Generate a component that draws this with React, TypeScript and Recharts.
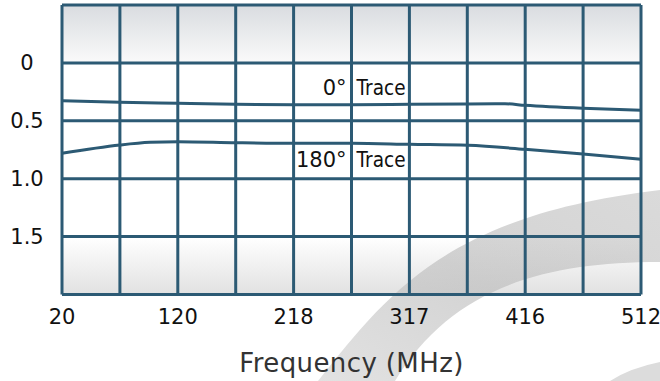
import React from 'react';
import { LineChart, Line, XAxis, YAxis, CartesianGrid, ReferenceDot } from 'recharts';

// ---- data ----
const freq0 = [20, 69.3, 118.6, 167.9, 217.1, 266.4, 315.7, 365, 396.4, 413.4, 462.7, 512];
const trace0 = [0.326, 0.340, 0.349, 0.358, 0.361, 0.361, 0.358, 0.355, 0.353, 0.366, 0.392, 0.409];
const freq180 = [20, 69.3, 94.8, 118.6, 167.9, 217.1, 266.4, 315.7, 365, 413.4, 462.7, 512];
const trace180 = [0.781, 0.709, 0.686, 0.680, 0.689, 0.694, 0.694, 0.703, 0.712, 0.746, 0.787, 0.832];

const xTicks = [20, 69.2, 118.4, 167.6, 216.8, 266, 315.2, 364.4, 413.6, 462.8, 512];
const xTickLabels = ['20', '', '120', '', '218', '', '317', '', '416', '', '512'];
const yTicks = [-0.5, 0, 0.5, 1, 1.5, 2];
const yTickLabels = ['', '0', '0.5', '1.0', '1.5', ''];

const traceLabels = [
  { name: '0°', word: 'Trace', f: 266, v: 0.28 },
  { name: '180°', word: 'Trace', f: 266, v: 0.9 },
];

const data0 = freq0.map((f, i) => ({ f, v: trace0[i] }));
const data180 = freq180.map((f, i) => ({ f, v: trace180[i] }));

const GRID = '#2c5a74';
const FONT = '"DejaVu Sans", Verdana, sans-serif';

const XTick = (props: any) => {
  const { x, y, payload } = props;
  const idx = xTicks.indexOf(payload.value);
  return (
    <text x={x} y={y} dy="0.71em" textAnchor="middle" fontSize={21} fill="#111" fontFamily={FONT}>
      {xTickLabels[idx] ?? ''}
    </text>
  );
};

const YTick = (props: any) => {
  const { x, y, payload } = props;
  const idx = yTicks.indexOf(payload.value);
  return (
    <text x={x} y={y} dy="0.36em" textAnchor="middle" fontSize={21} fill="#111" fontFamily={FONT}>
      {yTickLabels[idx] ?? ''}
    </text>
  );
};

const makeTraceLabel = (name: string, word: string) => (props: any) => {
  const vb = props.viewBox || {};
  const cx = vb.x ?? 0;
  const cy = vb.y ?? 0;
  return (
    <g>
      <text x={cx - 5} y={cy} textAnchor="end" fontSize={21} fill="#111" fontFamily={FONT}>{name}</text>
      <text x={cx + 5} y={cy} textAnchor="start" fontSize={21} fill="#111" fontFamily={FONT}
        textLength={49} lengthAdjust="spacingAndGlyphs">{word}</text>
    </g>
  );
};

export default function App() {
  return (
    <div style={{ position: 'fixed', left: 0, top: 0, width: 660, height: 381, background: '#fff' }}>
      <svg width={660} height={381} style={{ position: 'absolute', left: 0, top: 0 }}>
        <defs>
          <linearGradient id="gTop" x1="0" y1="0" x2="0" y2="1">
            <stop offset="0%" stopColor="#d9dce0" />
            <stop offset="100%" stopColor="#fafafa" />
          </linearGradient>
          <linearGradient id="gBot" x1="0" y1="0" x2="0" y2="1">
            <stop offset="0%" stopColor="#bdbdbd" stopOpacity={0} />
            <stop offset="100%" stopColor="#bdbdbd" stopOpacity={0.45} />
          </linearGradient>
          <linearGradient id="gBand" x1="0" y1="1" x2="1" y2="0">
            <stop offset="0%" stopColor="#e2e2e2" />
            <stop offset="50%" stopColor="#d3d3d3" />
            <stop offset="100%" stopColor="#dadada" />
          </linearGradient>
        </defs>
        <path d="M 318 381 C 390 290, 450 215, 660 190 L 660 262 C 540 262, 450 290, 395 381 Z" fill="url(#gBand)" />
        <path d="M 610 381 Q 630 368 660 362 L 660 381 Z" fill="#dcdcdc" />
      </svg>
      <div style={{ position: 'absolute', left: 0, top: 0 }}>
        <LineChart width={660} height={381} margin={{ top: 5, right: 19, left: 0, bottom: 0 }}>
          <CartesianGrid
            stroke={GRID}
            strokeWidth={3}
            fillOpacity={1}
            horizontalFill={['url(#gTop)', 'none', 'none', 'none', 'url(#gBot)']}
          />
          <XAxis
            type="number"
            dataKey="f"
            domain={[20, 512]}
            ticks={xTicks}
            interval={0}
            tick={<XTick />}
            tickLine={false}
            axisLine={false}
            tickSize={0}
            tickMargin={15}
            height={86.5}
            allowDuplicatedCategory={false}
            label={{ value: 'Frequency (MHz)', position: 'insideBottom', offset: 9, fontSize: 26, fill: '#333', fontFamily: FONT, letterSpacing: 0.4 }}
          />
          <YAxis
            type="number"
            domain={[-0.5, 2]}
            reversed
            ticks={yTicks}
            interval={0}
            tick={<YTick />}
            tickLine={false}
            axisLine={false}
            tickSize={0}
            tickMargin={35}
            width={62}
          />
          <Line data={data0} dataKey="v" type="monotone" stroke={GRID} strokeWidth={3} dot={false} isAnimationActive={false} />
          <Line data={data180} dataKey="v" type="monotone" stroke={GRID} strokeWidth={3} dot={false} isAnimationActive={false} />
          {traceLabels.map((t) => (
            <ReferenceDot key={t.name} x={t.f} y={t.v} r={0} fill="none" stroke="none"
              label={makeTraceLabel(t.name, t.word)} />
          ))}
        </LineChart>
      </div>
    </div>
  );
}
